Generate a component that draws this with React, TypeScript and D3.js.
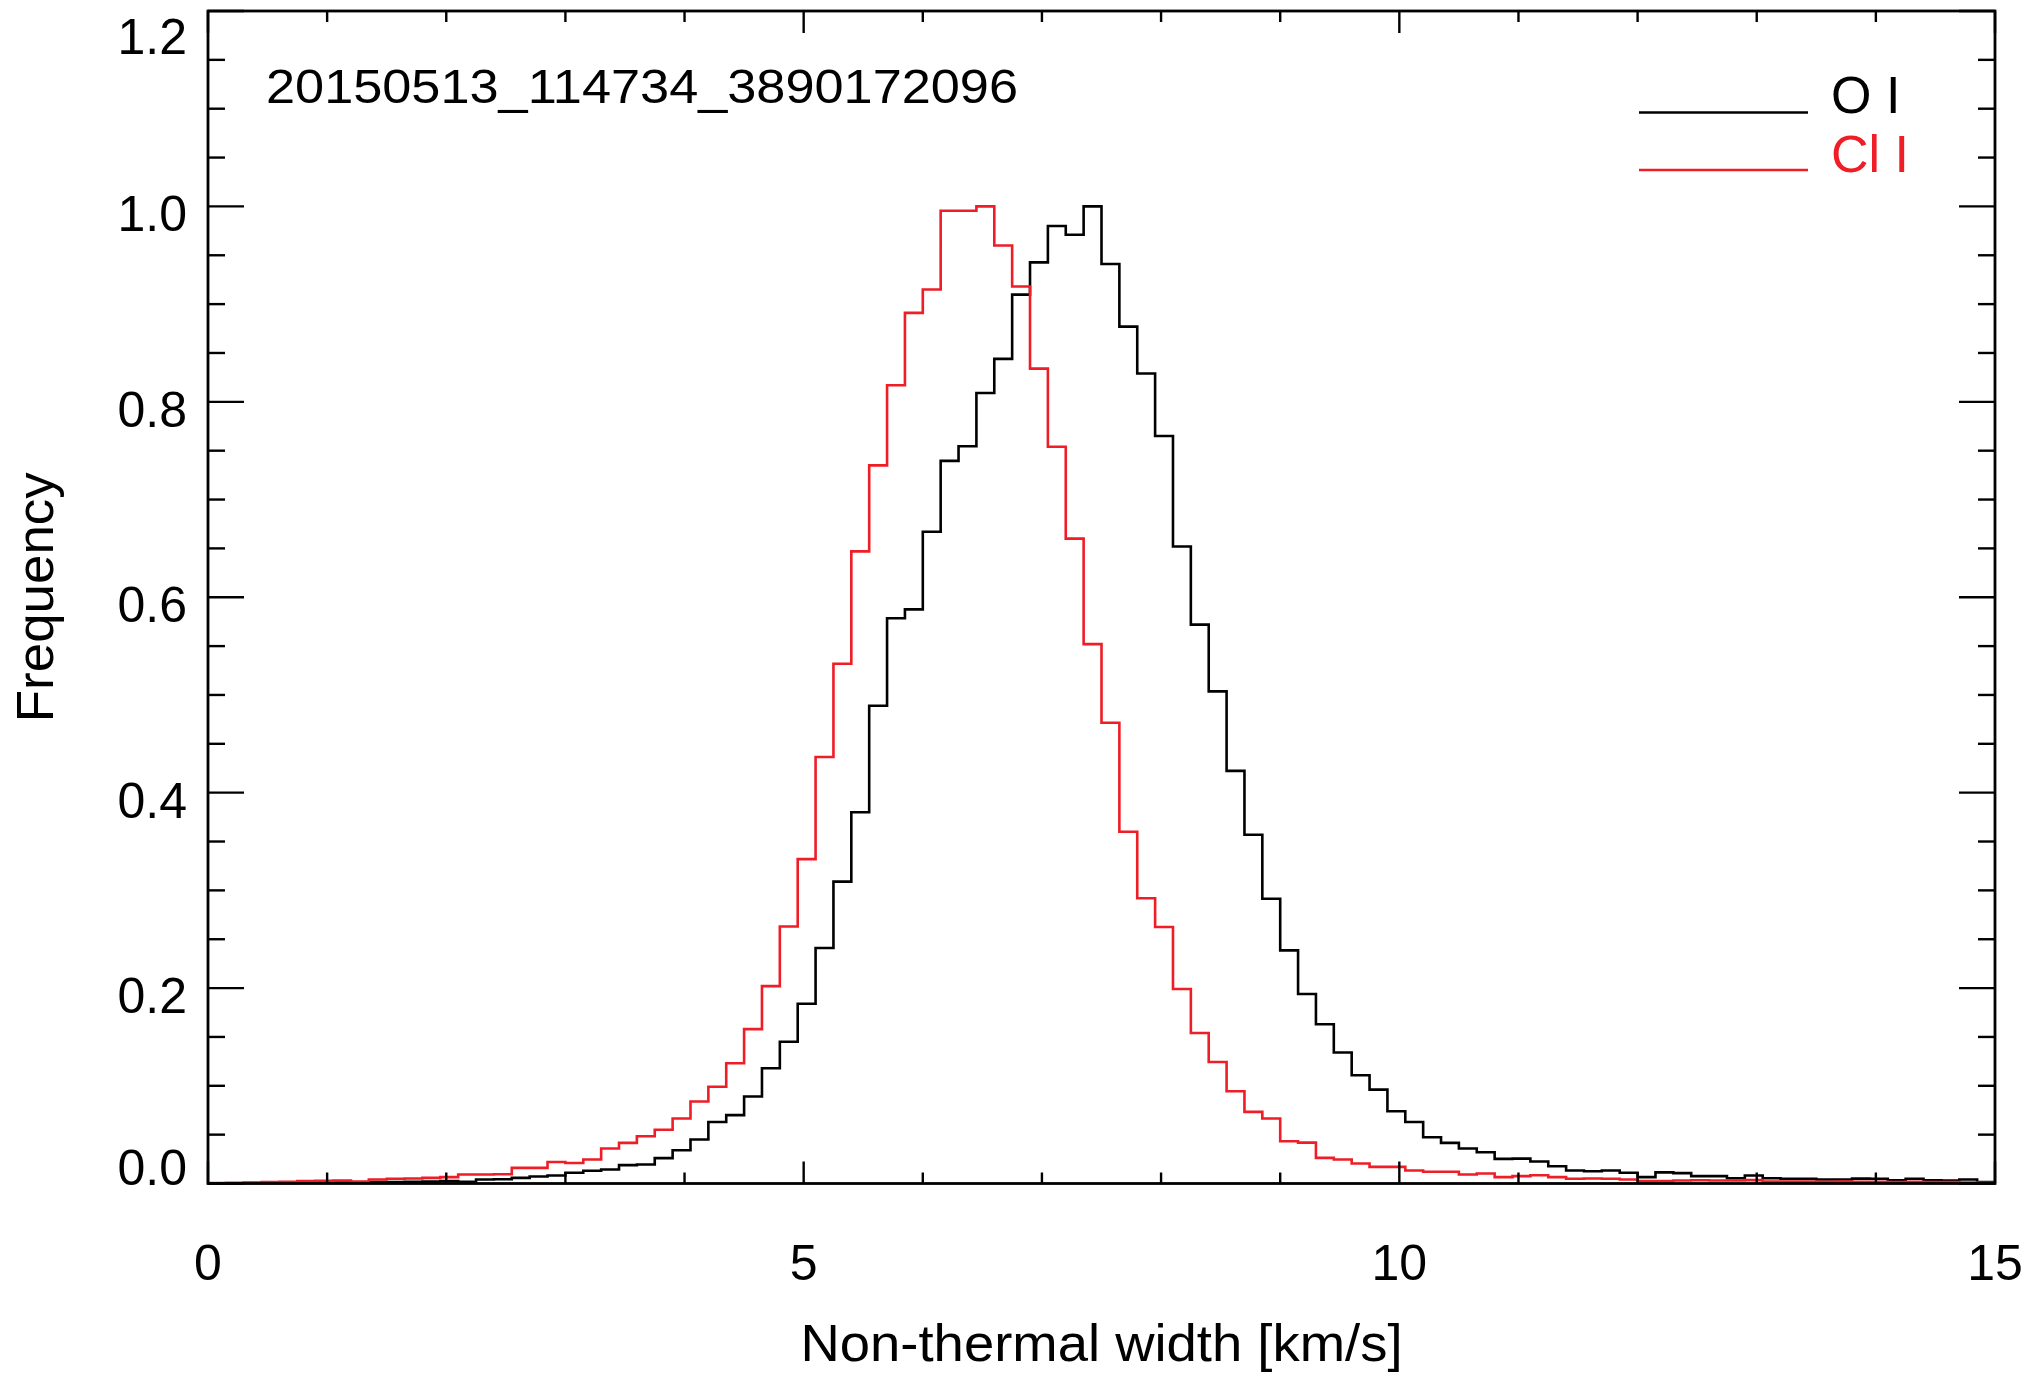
import React from 'react';
import * as d3 from 'd3';

// ---- data ----
const binWidth = 0.15;
const oiValues = [
  0.0003, 0.0003, 0.0005, 0.0005, 0.0005, 0.0007, 0.0007, 0.001, 0.001, 0.0014,
  0.0014, 0.0017, 0.002, 0.0024, 0.0017, 0.0041, 0.0044, 0.0058, 0.0072, 0.0082,
  0.011, 0.013, 0.0143, 0.0188, 0.0194, 0.026, 0.034, 0.045, 0.063, 0.07,
  0.089, 0.118, 0.145, 0.184, 0.241, 0.309, 0.38, 0.489, 0.5785, 0.5876,
  0.667, 0.7396, 0.7546, 0.809, 0.844, 0.9097, 0.9427, 0.98, 0.971, 1.0,
  0.941, 0.877, 0.829, 0.765, 0.652, 0.572, 0.5037, 0.4223, 0.357, 0.2914,
  0.2386, 0.194, 0.163, 0.134, 0.1108, 0.0961, 0.074, 0.063, 0.0474, 0.0416,
  0.0358, 0.032, 0.0252, 0.0255, 0.0225, 0.0177, 0.0133, 0.0126, 0.0133, 0.011,
  0.0065, 0.0114, 0.0106, 0.0075, 0.0075, 0.0054, 0.0082, 0.0054, 0.0048, 0.0048,
  0.0041, 0.0041, 0.005, 0.0048, 0.0034, 0.0048, 0.0034, 0.003, 0.0041, 0.0014,
];
const cliValues = [
  0.0005, 0.0007, 0.001, 0.0014, 0.0017, 0.0024, 0.0027, 0.003, 0.002, 0.0041,
  0.0048, 0.0051, 0.0058, 0.0065, 0.0092, 0.0092, 0.0095, 0.016, 0.016, 0.022,
  0.021, 0.0245, 0.0358, 0.0416, 0.0484, 0.055, 0.0665, 0.084, 0.099, 0.123,
  0.158, 0.202, 0.263, 0.332, 0.4365, 0.532, 0.647, 0.735, 0.817, 0.891,
  0.915, 0.9955, 0.9955, 1.0, 0.96, 0.918, 0.834, 0.754, 0.66, 0.552,
  0.4715, 0.36, 0.292, 0.2625, 0.199, 0.154, 0.1244, 0.0944, 0.0733, 0.0665,
  0.0433, 0.0418, 0.0262, 0.0245, 0.0204, 0.017, 0.017, 0.0133, 0.012, 0.012,
  0.0092, 0.0102, 0.0065, 0.0075, 0.0085, 0.0065, 0.0048, 0.0051, 0.0048, 0.0041,
  0.0024, 0.0024, 0.003, 0.0034, 0.003, 0.003, 0.0035, 0.002, 0.002, 0.002,
  0.0017, 0.002, 0.0017, 0.0017, 0.0014, 0.0017, 0.0014, 0.0014, 0.001, 0.0007,
];
const xDomain = [0, 15];
const yDomain = [0, 1.2];
const xMajorTicks = [0, 5, 10, 15];
const xTickLabels = ['0', '5', '10', '15'];
const yMajorTicks = [0, 0.2, 0.4, 0.6, 0.8, 1.0, 1.2];
const yTickLabels = ['0.0', '0.2', '0.4', '0.6', '0.8', '1.0', '1.2'];
const seriesNames = ['O I', 'Cl I'];
const seriesColors = ['#000000', '#ee1d26'];
const plotLabel = '20150513_114734_3890172096';
const xTitle = 'Non-thermal width [km/s]';
const yTitle = 'Frequency';

const W = 2029;
const H = 1375;
const L = 208, R = 1995, T = 11, B = 1183.5;
const FONT = '"Liberation Sans", Arial, Helvetica, sans-serif';

export default function App() {
  const x = d3.scaleLinear().domain(xDomain).range([L, R]);
  const y = d3.scaleLinear().domain(yDomain).range([B, T]);

  const makePath = (vals: number[]) => {
    const pts: [number, number][] = vals.map((v, i) => [i * binWidth, v]);
    pts.push([vals.length * binWidth, vals[vals.length - 1]]);
    return d3
      .line<[number, number]>()
      .x((d) => x(d[0]))
      .y((d) => y(d[1]))
      .curve(d3.curveStepAfter)(pts) as string;
  };

  const xMinor = d3.range(0, 15.001, 1);
  const yMinor = d3.range(0, 1.2001, 0.05);

  const yLabelY = (v: number, i: number) => {
    if (i === 0) return y(v) - 16;
    if (i === yMajorTicks.length - 1) return y(v) + 26;
    return y(v) + 8;
  };

  return (
    <svg
      width={W}
      height={H}
      viewBox={`0 0 ${W} ${H}`}
      style={{ position: 'absolute', left: 0, top: 0, background: '#fff' }}
      fontFamily={FONT}
    >
      <rect x={0} y={0} width={W} height={H} fill="#fff" />
      {/* series */}
      <path d={makePath(oiValues)} fill="none" stroke={seriesColors[0]} strokeWidth={2.6} />
      <path d={makePath(cliValues)} fill="none" stroke={seriesColors[1]} strokeWidth={2.6} />

      {/* frame */}
      <rect x={L} y={T} width={R - L} height={B - T} fill="none" stroke="#000" strokeWidth={2.8} />

      {/* x minor / major ticks (bottom & top) */}
      {xMinor.map((v) => {
        const major = xMajorTicks.includes(Math.round(v));
        const len = major ? 22 : 11;
        return (
          <g key={'xt' + v}>
            <line x1={x(v)} x2={x(v)} y1={B} y2={B - len} stroke="#000" strokeWidth={2.4} />
            <line x1={x(v)} x2={x(v)} y1={T} y2={T + len} stroke="#000" strokeWidth={2.4} />
          </g>
        );
      })}
      {/* y ticks (left & right) */}
      {yMinor.map((v) => {
        const major = yMajorTicks.some((t) => Math.abs(t - v) < 1e-6);
        const len = major ? 36 : 17;
        return (
          <g key={'yt' + v.toFixed(2)}>
            <line x1={L} x2={L + len} y1={y(v)} y2={y(v)} stroke="#000" strokeWidth={2.4} />
            <line x1={R} x2={R - len} y1={y(v)} y2={y(v)} stroke="#000" strokeWidth={2.4} />
          </g>
        );
      })}

      {/* y tick labels */}
      {yMajorTicks.map((v, i) => (
        <text
          key={'yl' + i}
          x={187}
          y={yLabelY(v, i)}
          textAnchor="end"
          dominantBaseline="central"
          fontSize={50}
          fill="#000"
        >
          {yTickLabels[i]}
        </text>
      ))}
      {/* x tick labels */}
      {xMajorTicks.map((v, i) => (
        <text key={'xl' + i} x={x(v)} y={1280} textAnchor="middle" fontSize={50} fill="#000">
          {xTickLabels[i]}
        </text>
      ))}

      {/* axis titles */}
      <text
        x={x(7.5)}
        y={1361}
        textAnchor="middle"
        fontSize={52}
        textLength={602}
        lengthAdjust="spacingAndGlyphs"
        fill="#000"
      >
        {xTitle}
      </text>
      <text
        transform={`translate(53, ${(T + B) / 2}) rotate(-90)`}
        textAnchor="middle"
        fontSize={52}
        textLength={250}
        lengthAdjust="spacingAndGlyphs"
        fill="#000"
      >
        {yTitle}
      </text>

      {/* plot label */}
      <text x={266} y={103} fontSize={48} textLength={752} lengthAdjust="spacingAndGlyphs" fill="#000">
        {plotLabel}
      </text>

      {/* legend */}
      {seriesNames.map((name, i) => (
        <g key={'lg' + i}>
          <line
            x1={1639}
            x2={1808}
            y1={112.5 + i * 57.5}
            y2={112.5 + i * 57.5}
            stroke={seriesColors[i]}
            strokeWidth={2.6}
          />
          <text x={1831} y={113 + i * 59} fontSize={52} fill={seriesColors[i]}>
            {name}
          </text>
        </g>
      ))}
    </svg>
  );
}
